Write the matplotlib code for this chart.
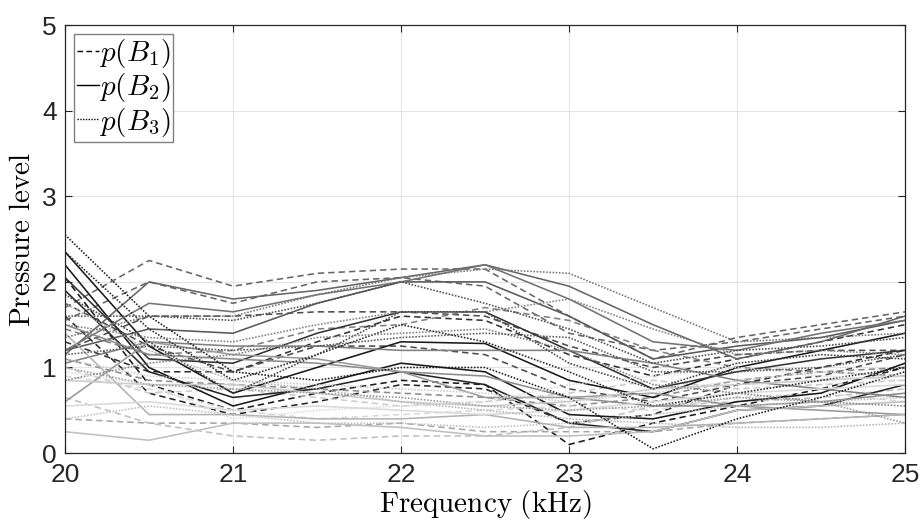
import numpy as np
import matplotlib
matplotlib.use('Agg')
import matplotlib.pyplot as plt
from matplotlib.lines import Line2D

plt.rcParams['font.family'] = ['Liberation Sans', 'DejaVu Sans']
plt.rcParams['mathtext.fontset'] = 'cm'

freq = [20, 20.5, 21, 21.5, 22, 22.5, 23, 23.5, 24, 24.5, 25]

# p(B1) -- dashed
b1_vals = [
    [2.05, 0.80, 0.50, 0.70, 0.85, 0.80, 0.10, 0.35, 0.55, 0.75, 1.00],
    [1.60, 0.70, 0.45, 0.60, 0.80, 0.75, 0.35, 0.45, 0.80, 1.00, 1.20],
    [1.30, 0.95, 0.95, 1.30, 1.60, 1.55, 1.15, 0.90, 1.10, 1.30, 1.50],
    [1.70, 2.25, 1.95, 2.10, 2.15, 2.15, 1.60, 1.10, 1.35, 1.50, 1.65],
    [1.55, 2.00, 1.75, 2.00, 2.05, 1.95, 1.40, 1.20, 1.30, 1.45, 1.60],
    [1.20, 1.60, 1.60, 1.65, 1.65, 1.60, 1.25, 1.00, 1.15, 1.20, 1.20],
    [1.75, 1.25, 0.95, 1.25, 1.25, 1.15, 0.75, 0.60, 0.80, 0.90, 1.15],
    [1.10, 0.85, 0.80, 0.75, 0.70, 0.65, 0.55, 0.65, 0.85, 0.95, 1.00],
    [0.40, 0.35, 0.35, 0.30, 0.35, 0.25, 0.25, 0.25, 0.35, 0.40, 0.45],
    [0.65, 0.35, 0.20, 0.15, 0.20, 0.20, 0.30, 0.55, 0.60, 0.65, 0.75],
    [1.00, 0.70, 0.75, 0.65, 0.55, 0.60, 0.70, 0.85, 0.75, 0.80, 0.85],
    [0.90, 0.75, 0.50, 0.40, 0.45, 0.50, 0.55, 0.50, 0.65, 0.70, 0.60],
    [1.45, 1.15, 1.20, 1.45, 1.50, 1.70, 1.55, 1.20, 1.00, 0.95, 0.90],
]
b1_gray = [0.1, 0.15, 0.2, 0.4, 0.4, 0.3, 0.3, 0.55, 0.65, 0.75, 0.8, 0.85, 0.5]

# p(B2) -- solid
b2_vals = [
    [2.35, 1.25, 0.70, 1.00, 1.30, 1.28, 0.85, 0.65, 1.00, 1.20, 1.40],
    [2.20, 1.00, 0.55, 0.80, 1.05, 0.95, 0.45, 0.40, 0.60, 0.70, 1.05],
    [1.90, 0.95, 0.65, 0.75, 0.95, 0.80, 0.35, 0.25, 0.50, 0.55, 0.80],
    [2.05, 1.10, 1.05, 1.40, 1.65, 1.65, 1.20, 0.75, 0.95, 1.10, 1.20],
    [1.20, 1.45, 1.40, 1.75, 2.00, 2.00, 1.60, 1.10, 1.25, 1.35, 1.55],
    [1.15, 2.00, 1.80, 1.90, 2.05, 2.20, 1.95, 1.50, 1.10, 1.30, 1.60],
    [1.20, 1.75, 1.65, 1.85, 2.00, 2.20, 1.80, 1.30, 1.20, 1.40, 1.55],
    [1.05, 1.30, 1.25, 1.25, 1.20, 1.20, 1.20, 1.05, 0.85, 0.75, 0.65],
    [1.50, 1.15, 1.10, 1.05, 0.95, 0.90, 0.65, 0.55, 0.55, 0.60, 0.70],
    [0.60, 1.30, 1.15, 1.10, 0.95, 0.65, 0.65, 0.70, 0.55, 0.50, 0.45],
    [1.40, 0.45, 0.45, 0.40, 0.40, 0.45, 0.30, 0.30, 0.35, 0.40, 0.45],
    [0.25, 0.15, 0.35, 0.35, 0.30, 0.20, 0.20, 0.25, 0.50, 0.55, 0.60],
    [0.85, 0.80, 0.80, 0.70, 0.60, 0.55, 0.60, 0.75, 0.80, 0.85, 0.90],
    [0.55, 0.60, 0.50, 0.55, 0.50, 0.45, 0.50, 0.60, 0.70, 0.75, 0.80],
]
b2_gray = [0.1, 0.1, 0.15, 0.2, 0.35, 0.4, 0.45, 0.5, 0.55, 0.6, 0.7, 0.75, 0.8, 0.85]

# p(B3) -- dotted
b3_vals = [
    [2.55, 1.60, 0.95, 0.85, 1.00, 1.00, 0.65, 0.05, 0.40, 0.65, 0.95],
    [2.35, 1.45, 0.85, 1.15, 1.50, 1.30, 0.95, 0.55, 0.70, 0.85, 1.00],
    [1.85, 1.30, 0.70, 1.15, 1.65, 1.65, 1.05, 0.75, 1.05, 1.15, 1.10],
    [1.60, 1.60, 1.55, 1.75, 2.00, 1.75, 1.45, 1.05, 1.20, 1.25, 1.35],
    [1.35, 1.60, 1.60, 1.85, 2.05, 2.15, 2.10, 1.70, 1.30, 1.35, 1.40],
    [1.50, 1.35, 1.30, 1.50, 1.65, 1.65, 1.80, 1.45, 1.15, 1.20, 1.15],
    [0.85, 1.05, 1.15, 1.35, 1.40, 1.45, 1.20, 0.80, 0.70, 0.60, 0.55],
    [1.00, 0.80, 0.75, 0.70, 0.65, 0.55, 0.50, 0.55, 0.65, 0.60, 0.35],
    [1.75, 1.20, 0.85, 0.75, 0.60, 0.50, 0.40, 0.35, 0.30, 0.30, 0.35],
    [0.40, 0.55, 0.45, 0.35, 0.35, 0.30, 0.35, 0.45, 0.55, 0.60, 0.65],
    [1.10, 0.90, 0.85, 0.80, 0.75, 0.70, 0.60, 0.70, 0.85, 0.95, 0.90],
    [0.95, 0.80, 0.40, 0.50, 0.55, 0.60, 0.80, 0.90, 1.00, 0.90, 0.85],
    [1.15, 1.25, 1.20, 1.25, 1.35, 1.40, 1.35, 0.95, 0.95, 1.00, 1.15],
]
b3_gray = [0.1, 0.15, 0.25, 0.3, 0.45, 0.5, 0.5, 0.6, 0.7, 0.75, 0.8, 0.85, 0.35]

DASH = (0, (4, 2.5))
DOT = (0, (1, 1))

fig = plt.figure(figsize=(9.21, 5.22), dpi=100)
ax = fig.add_axes([0.0706, 0.132, 0.912, 0.820])

for vals, grays, ls in [(b1_vals, b1_gray, DASH),
                        (b2_vals, b2_gray, '-'),
                        (b3_vals, b3_gray, DOT)]:
    for v, g in zip(vals, grays):
        ax.plot(freq, v, color=str(g), linestyle=ls, linewidth=1.15)

ax.set_xlim(20, 25)
ax.set_ylim(0, 5)
ax.set_xticks([20, 21, 22, 23, 24, 25])
ax.set_yticks([0, 1, 2, 3, 4, 5])
ax.grid(True, color='#e3e3e3', linewidth=0.8)
ax.set_axisbelow(True)
ax.tick_params(direction='in', top=True, right=True, length=5,
               labelsize=19, colors='#262626', width=0.8)
ax.tick_params(axis='x', pad=7)
ax.tick_params(axis='y', pad=6)
for s in ax.spines.values():
    s.set_color('#262626')
    s.set_linewidth(0.9)

ax.set_xlabel(r'$\mathrm{Frequency\ (kHz)}$', fontsize=21, labelpad=1)
ax.set_ylabel(r'$\mathrm{Pressure\ level}$', fontsize=21, labelpad=4)

handles = [
    Line2D([], [], color='k', linestyle=DASH, linewidth=1.0),
    Line2D([], [], color='k', linestyle='-', linewidth=1.0),
    Line2D([], [], color='k', linestyle=DOT, linewidth=1.0),
]
labels = [r'$p(B_1)$', r'$p(B_2)$', r'$p(B_3)$']
leg = ax.legend(handles, labels, loc='upper left', fontsize=21,
                handlelength=0.75, handletextpad=0.0, labelspacing=0.05,
                borderpad=0.1, borderaxespad=0.3, fancybox=False,
                framealpha=1)
leg.get_frame().set_edgecolor('#808080')
leg.get_frame().set_linewidth(1.0)

fig.savefig('out.png', dpi=100)
